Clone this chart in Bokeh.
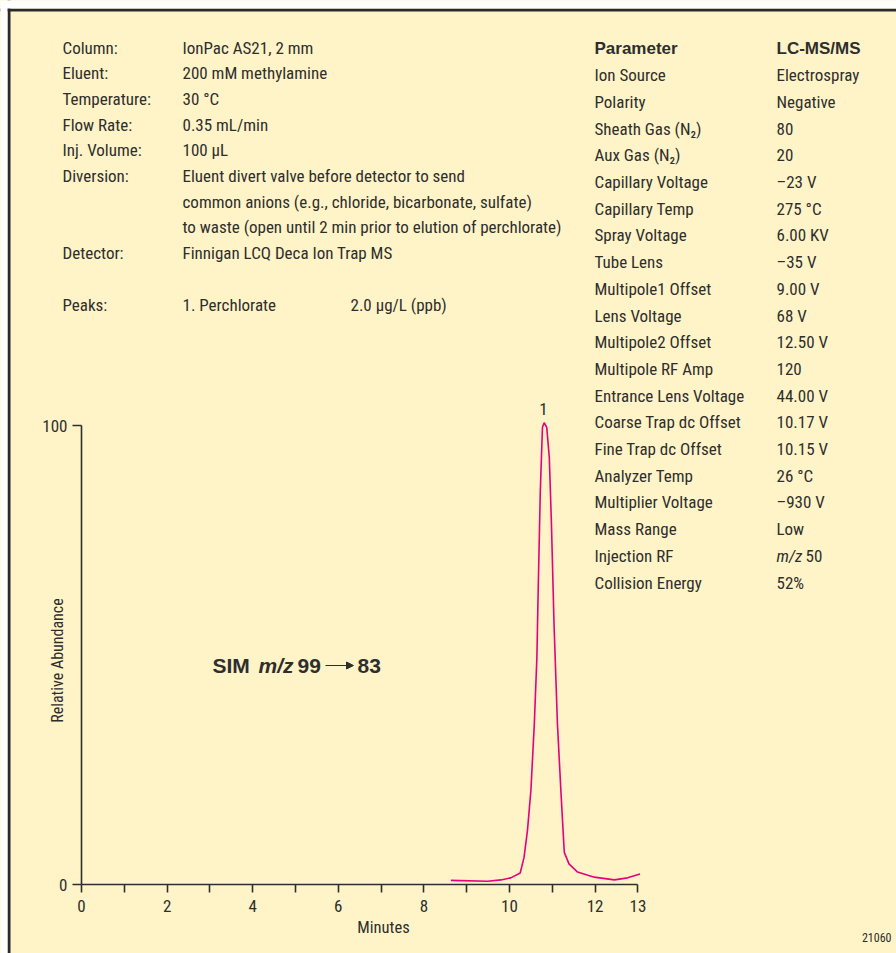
import math
from bokeh.plotting import figure
from bokeh.models import Range1d, FixedTicker, Label, Arrow, NormalHead, LinearAxis, Span
from bokeh.embed import file_html
from bokeh.resources import INLINE

# ---------------- data ----------------
time_min = [8.63, 9.49, 9.80, 10.03, 10.25, 10.34, 10.42, 10.50, 10.58, 10.64, 10.67,
            10.72, 10.77, 10.81, 10.87, 10.93, 10.98, 11.04, 11.12, 11.20, 11.28,
            11.39, 11.59, 11.98, 12.45, 12.76, 13.05]
abundance = [0.9, 0.7, 1.0, 1.45, 2.5, 5.9, 11.8, 20.5, 35.0, 49.5, 64.0,
             85.8, 99.6, 100.6, 99.6, 93.0, 78.6, 56.8, 35.0, 20.5, 7.0,
             4.5, 2.7, 1.6, 1.0, 1.45, 2.3]

x_ticks = list(range(0, 14))
x_tick_labels = {t: (str(t) if (t % 2 == 0 or t == 13) else "") for t in x_ticks}
y_ticks = [0, 100]

cond_labels = ["Column:", "Eluent:", "Temperature:", "Flow Rate:", "Inj. Volume:",
               "Diversion:", "", "", "Detector:", "", "Peaks:"]
cond_values = ["IonPac AS21, 2 mm", "200 mM methylamine", "30 °C", "0.35 mL/min",
               "100 µL", "Eluent divert valve before detector to send",
               "common anions (e.g., chloride, bicarbonate, sulfate)",
               "to waste (open until 2 min prior to elution of perchlorate)",
               "Finnigan LCQ Deca Ion Trap MS", "", "1. Perchlorate"]
peak_amount = "2.0 µg/L (ppb)"

param_names = ["Ion Source", "Polarity", "Sheath Gas (N\u2082)", "Aux Gas (N\u2082)",
               "Capillary Voltage", "Capillary Temp", "Spray Voltage", "Tube Lens",
               "Multipole1 Offset", "Lens Voltage", "Multipole2 Offset",
               "Multipole RF Amp", "Entrance Lens Voltage", "Coarse Trap dc Offset",
               "Fine Trap dc Offset", "Analyzer Temp", "Multiplier Voltage",
               "Mass Range", "Injection RF", "Collision Energy"]
param_values = ["Electrospray", "Negative", "80", "20", "\u201323 V", "275 °C",
                "6.00 KV", "\u201335 V", "9.00 V", "68 V", "12.50 V", "120", "44.00 V",
                "10.17 V", "10.15 V", "26 °C", "\u2013930 V", "Low", "m/z|50", "52%"]

# ---------------- styling ----------------
BG = "#FFF4C7"
INK = "#2E2E2E"
PEAK = "#E6007E"
FONT = "'Liberation Sans Narrow', 'Roboto Condensed', 'Arial Narrow', sans-serif"
BFONT = "'Liberation Sans', Arial, sans-serif"
TS = 17  # body text size

W, H = 896, 953
PX0, SX = 81.0, 42.8     # x=0 at page x 81, 42.8 px per minute
PY0, SY = 884.0, 4.59    # y=0 at page y 884, 4.59 px per unit


def dx(px):
    return (px - PX0) / SX


def dy(py):
    return (PY0 - py) / SY


p = figure(width=W, height=H, output_backend="svg", toolbar_location=None,
           x_range=Range1d(dx(0), dx(W)), y_range=Range1d(dy(H), dy(0)),
           x_axis_location=None, y_axis_location=None,
           min_border_left=0, min_border_right=0, min_border_top=0, min_border_bottom=0,
           background_fill_color=BG, border_fill_color=BG, outline_line_color=None)
p.grid.visible = False

xax = LinearAxis(fixed_location=0, ticker=FixedTicker(ticks=x_ticks),
                 major_label_overrides=x_tick_labels, bounds=(0, 13),
                 major_tick_out=8, major_label_standoff=7)
yax = LinearAxis(fixed_location=0, ticker=FixedTicker(ticks=y_ticks), bounds=(0, 100),
                 major_tick_out=9, major_label_standoff=5)
for ax in (xax, yax):
    ax.axis_line_color = INK
    ax.axis_line_width = 1.6
    ax.major_tick_line_color = INK
    ax.major_tick_line_width = 1.6
    ax.major_tick_in = 0
    ax.minor_tick_line_color = None
    ax.major_label_text_font = FONT
    ax.major_label_text_font_size = "17px"
    ax.major_label_text_color = INK
p.add_layout(xax, "below")
p.add_layout(yax, "left")

p.line(time_min, abundance, line_color=PEAK, line_width=1.6)

# dark frame edge (top / left), then white page margin over it
p.add_layout(Span(location=dy(9.5), dimension="width", line_color="#2A2A2A", line_width=3))
p.add_layout(Span(location=dx(8.5), dimension="height", line_color="#2A2A2A", line_width=3))
p.add_layout(Span(location=dy(4), dimension="width", line_color="white", line_width=8))
p.add_layout(Span(location=dx(3.5), dimension="height", line_color="white", line_width=7))


def txt(px, py, s, size=TS, style="normal", align="left", baseline="middle",
        angle=0.0, font=FONT):
    p.add_layout(Label(x=dx(px), y=dy(py), text=s, text_font=font,
                       text_font_size=f"{size}px", text_font_style=style,
                       text_color=INK, text_align=align, text_baseline=baseline,
                       angle=angle))


# chromatographic conditions
row0, rstep = 47, 25.7
for i, (lab, val) in enumerate(zip(cond_labels, cond_values)):
    y = row0 + i * rstep
    if lab:
        txt(62, y, lab)
    if val:
        txt(182, y, val)
txt(350, row0 + 10 * rstep, peak_amount)

# MS parameter table
t0, tstep = 48, 26.7
C1, C2 = 594, 776
txt(C1, t0, "Parameter", size=17, style="bold", font=BFONT)
txt(C2, t0, "LC-MS/MS", size=17, style="bold", font=BFONT)
for i, (nm, val) in enumerate(zip(param_names, param_values)):
    y = t0 + (i + 1) * tstep
    txt(C1, y, nm)
    if "|" in val:
        a, b = val.split("|")
        txt(C2, y, a, style="italic")
        txt(C2 + 29, y, b)
    else:
        txt(C2, y, val)

# chart annotations
txt(543, 408, "1", size=17, align="center")
txt(383, 927, "Minutes", size=16.5, align="center")
txt(57, 660, "Relative Abundance", size=16, align="center", angle=math.pi / 2)
txt(891, 937, "21060", size=12, align="right")

# SIM label
txt(212, 665, "SIM", size=21, style="bold", font=BFONT)
txt(258, 665, "m/z", size=21, style="bold italic", font=BFONT)
txt(297, 665, "99", size=21, style="bold", font=BFONT)
txt(357, 665, "83", size=21, style="bold", font=BFONT)
p.add_layout(Arrow(x_start=dx(325), y_start=dy(665), x_end=dx(353), y_end=dy(665),
                   line_color=INK, line_width=1.2,
                   end=NormalHead(size=7, fill_color=INK, line_color=INK)))

open("out.html", "w").write(file_html(p, INLINE))
